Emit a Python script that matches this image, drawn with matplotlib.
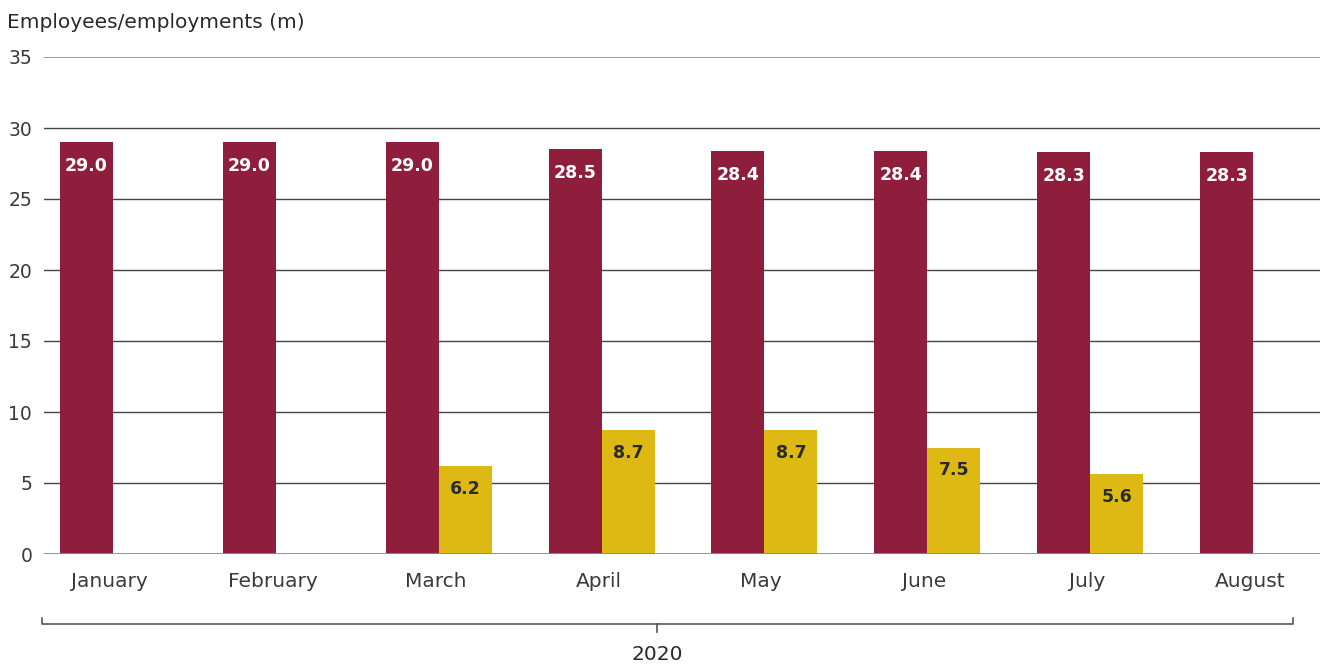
import matplotlib
matplotlib.use("Agg")
import matplotlib.pyplot as plt
from matplotlib.lines import Line2D
import numpy as np

months = ["January", "February", "March", "April", "May", "June", "July", "August"]
employees = [29.0, 29.0, 29.0, 28.5, 28.4, 28.4, 28.3, 28.3]
short_time = [None, None, 6.2, 8.7, 8.7, 7.5, 5.6, None]
yticks = [0, 5, 10, 15, 20, 25, 30, 35]
year_label = "2020"
ylabel = "Employees/employments (m)"

MAROON = "#8E1E3C"
YELLOW = "#DEB813"
TEXT = "#2a2a2a"
TICK = "#3a3a3a"

plt.rcParams['font.family'] = ['DejaVu Sans']

fig = plt.figure(figsize=(13.26, 6.64), dpi=100)
ax = fig.add_axes([44/1326, 1-554/664, (1320-44)/1326, (554-57)/664])

x = np.arange(len(months))
w = 0.3254
ax.bar(x - w/2, employees, width=w, color=MAROON, zorder=3)
for xi, v in zip(x, employees):
    ax.text(xi - w/2, v - 1.7, f"{v:.1f}", ha="center", va="center",
            color="white", fontsize=12.5, fontweight="semibold", zorder=4)
for xi, v in zip(x, short_time):
    if v is None:
        continue
    ax.bar(xi + w/2, v, width=w, color=YELLOW, zorder=3)
    ax.text(xi + w/2, v - 1.6, f"{v:.1f}", ha="center", va="center",
            color=TEXT, fontsize=12.5, fontweight="semibold", zorder=4)

ax.set_xlim(-0.4237, 7.411)
ax.set_ylim(0, 35)
ax.set_yticks(yticks)
ax.set_yticklabels([str(t) for t in yticks], fontsize=13.5, color=TICK)
for t in yticks:
    if t == 0:
        ax.axhline(t, color="#8a8a8a", lw=2, zorder=5)
    elif t == 35:
        ax.axhline(t, color="#8a8a8a", lw=1.2, zorder=1)
    else:
        ax.axhline(t, color="#444444", lw=1, zorder=1)

ax.set_xticks(x - 0.02)
ax.set_xticklabels(months, fontsize=14.5, color=TICK)
ax.tick_params(axis="both", length=0)
ax.tick_params(axis="x", pad=13)
ax.tick_params(axis="y", pad=8.5)
for s in ax.spines.values():
    s.set_visible(False)

fig.text(7/1326, 1-22/664, ylabel, fontsize=14.5, color=TEXT, ha="left", va="center")

# bracket for year
yb = 1-624/664
x0, x1 = 42/1326, 1293/1326
fig.add_artist(Line2D([x0, x0, x1, x1], [yb+6/664, yb, yb, yb+6/664],
                      color="#555555", lw=1.2, transform=fig.transFigure))
xc = 657/1326
fig.add_artist(Line2D([xc, xc], [yb, yb-8/664], color="#555555", lw=1.2,
                      transform=fig.transFigure))
fig.text(xc, 1-655/664, year_label, fontsize=14.5, color=TEXT, ha="center", va="center")

fig.savefig("out.png", dpi=100)
